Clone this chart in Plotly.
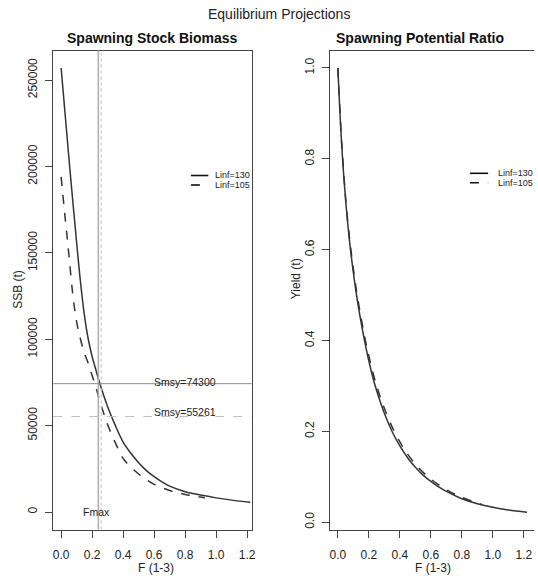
import plotly.graph_objects as go

# ---------------- data ----------------
F_130 = [0, 0.025, 0.05, 0.075, 0.1, 0.125, 0.15, 0.175, 0.2, 0.225, 0.25, 0.3, 0.35,
         0.4, 0.45, 0.5, 0.55, 0.6, 0.65, 0.7, 0.8, 0.9, 1.0, 1.1, 1.22]
ssb_130 = [257000, 231000, 205000, 180000, 156000, 133000, 114000, 100000, 90000, 82000,
           74300, 61000, 50000, 40500, 34000, 28500, 24000, 20500, 17500, 15000, 11800,
           9800, 8200, 6900, 5600]
spr_130 = [1.0, 0.83, 0.71, 0.62, 0.55, 0.49, 0.44, 0.395, 0.355, 0.32, 0.29, 0.24, 0.2,
           0.168, 0.142, 0.121, 0.104, 0.09, 0.078, 0.068, 0.052, 0.041, 0.033, 0.027, 0.022]

F_105 = [0, 0.025, 0.05, 0.075, 0.1, 0.125, 0.15, 0.175, 0.2, 0.225, 0.25, 0.275, 0.3,
         0.35, 0.4, 0.45, 0.5, 0.55, 0.6, 0.7, 0.8, 0.927]
ssb_105 = [194000, 171000, 149000, 126000, 110000, 100000, 92000, 86000, 79000, 72000,
           64000, 57000, 50500, 40000, 31000, 26000, 22000, 18700, 16000, 12500, 10200, 8300]
spr_105 = [1.0, 0.835, 0.715, 0.627, 0.558, 0.499, 0.45, 0.405, 0.366, 0.331, 0.301,
           0.274, 0.251, 0.21, 0.177, 0.15, 0.128, 0.11, 0.095, 0.072, 0.055, 0.04]

series_names = ["Linf=130", "Linf=105"]
fmax = [0.240, 0.259]
smsy = [74300, 55261]

x_ticks = [0, 0.2, 0.4, 0.6, 0.8, 1.0, 1.2]
x_ticklabels = ["0.0", "0.2", "0.4", "0.6", "0.8", "1.0", "1.2"]
ssb_ticks = [0, 50000, 100000, 150000, 200000, 250000]
ssb_ticklabels = ["0", "50000", "100000", "150000", "200000", "250000"]
spr_ticks = [0, 0.2, 0.4, 0.6, 0.8, 1.0]
spr_ticklabels = ["0.0", "0.2", "0.4", "0.6", "0.8", "1.0"]

# ---------------- figure ----------------
W, H = 538, 579
FONT = "Liberation Sans, Arial, Helvetica, sans-serif"
CURVE = "#333333"
AX = "#444444"
TXT = "#222222"


def px(x):
    return x / W


def py(y):
    return 1 - y / H


fig = go.Figure()

fig.add_trace(go.Scatter(x=F_130, y=ssb_130, mode="lines", line=dict(color=CURVE, width=1.5, shape="spline"),
                         xaxis="x", yaxis="y", showlegend=False))
fig.add_trace(go.Scatter(x=F_105, y=ssb_105, mode="lines", line=dict(color=CURVE, width=1.5, dash="dash", shape="spline"),
                         xaxis="x", yaxis="y", showlegend=False))
fig.add_trace(go.Scatter(x=F_130, y=spr_130, mode="lines", line=dict(color=CURVE, width=1.5, shape="spline"),
                         xaxis="x2", yaxis="y2", showlegend=False))
fig.add_trace(go.Scatter(x=F_105, y=spr_105, mode="lines", line=dict(color=CURVE, width=1.5, dash="dash", shape="spline"),
                         xaxis="x2", yaxis="y2", showlegend=False))

ydom = [py(529.5), py(50.5)]
axis_common = dict(showgrid=False, zeroline=False, showline=True, linecolor=AX, linewidth=1,
                   ticks="outside", ticklen=7, tickcolor=AX, tickwidth=1,
                   tickfont=dict(family=FONT, size=12, color=TXT))

fig.update_layout(
    width=W, height=H, autosize=False,
    margin=dict(l=0, r=0, t=0, b=0),
    paper_bgcolor="white", plot_bgcolor="white",
    font=dict(family=FONT, color=TXT),
    xaxis=dict(domain=[px(52.7), px(253)], range=[-0.0511, 1.2288], mirror=True,
               tickvals=x_ticks, ticktext=x_ticklabels, anchor="y", ticklabelstandoff=7, **axis_common),
    yaxis=dict(domain=ydom, range=[-10100, 267100], mirror=True, tickangle=-90,
               tickvals=ssb_ticks, ticktext=ssb_ticklabels, anchor="x", ticklabelstandoff=3, **axis_common),
    xaxis2=dict(domain=[px(332.3), 1.0], range=[-0.0492, 1.2652], mirror=True,
                tickvals=x_ticks, ticktext=x_ticklabels, anchor="y2", ticklabelstandoff=7, **axis_common),
    yaxis2=dict(domain=ydom, range=[-0.0158, 1.0385], mirror=False, tickangle=-90,
                tickvals=spr_ticks, ticktext=spr_ticklabels, anchor="x2", ticklabelstandoff=3, **axis_common),
)

shapes = []
# Fmax vertical lines
shapes.append(dict(type="line", xref="x", yref="y domain", x0=fmax[0], x1=fmax[0], y0=0, y1=1,
                   line=dict(color="#b0b0b0", width=1.6)))
shapes.append(dict(type="line", xref="x", yref="y domain", x0=fmax[1], x1=fmax[1], y0=0, y1=1,
                   line=dict(color="#c8c8c8", width=1.2, dash="dot")))
# Smsy horizontal lines
shapes.append(dict(type="line", xref="x domain", yref="y", x0=0, x1=1, y0=smsy[0], y1=smsy[0],
                   line=dict(color="#8c8c8c", width=1)))
shapes.append(dict(type="line", xref="x domain", yref="y", x0=0, x1=1, y0=smsy[1], y1=smsy[1],
                   line=dict(color="#bdbdbd", width=1, dash="dash")))

# legend samples (left and right panels)
legend_pos = [(191.7, 209.3, 213.5, 175.5, 185.0), (473.3, 491.7, 500.0, 173.3, 182.7)]
for (lx0, lx1, tx, ly1, ly2) in legend_pos:
    shapes.append(dict(type="line", xref="paper", yref="paper", x0=px(lx0), x1=px(lx1), y0=py(ly1), y1=py(ly1),
                       line=dict(color="#111111", width=1.6)))
    shapes.append(dict(type="line", xref="paper", yref="paper", x0=px(lx0), x1=px(lx1), y0=py(ly2), y1=py(ly2),
                       line=dict(color="#111111", width=1.6, dash="dash")))
fig.update_layout(shapes=shapes)

ann = []
ann.append(dict(text="Equilibrium Projections", xref="paper", yref="paper", x=px(280.5), y=py(14),
                showarrow=False, font=dict(family=FONT, size=14, color=TXT), xanchor="center", yanchor="middle"))
ann.append(dict(text="<b>Spawning Stock Biomass</b>", xref="paper", yref="paper", x=px(152.7), y=py(37.5),
                showarrow=False, font=dict(family=FONT, size=14, color="#111111"), xanchor="center", yanchor="middle"))
ann.append(dict(text="<b>Spawning Potential Ratio</b>", xref="paper", yref="paper", x=px(423.3), y=py(37.5),
                showarrow=False, font=dict(family=FONT, size=14, color="#111111"), xanchor="center", yanchor="middle"))
ann.append(dict(text="SSB (t)", xref="paper", yref="paper", x=px(17), y=py(289), textangle=-90,
                showarrow=False, font=dict(family=FONT, size=12, color=TXT), xanchor="center", yanchor="middle"))
ann.append(dict(text="Yield (t)", xref="paper", yref="paper", x=px(298), y=py(279), textangle=-90,
                showarrow=False, font=dict(family=FONT, size=12, color=TXT), xanchor="center", yanchor="middle"))
ann.append(dict(text="F (1-3)", xref="paper", yref="paper", x=px(156.7), y=py(567.5),
                showarrow=False, font=dict(family=FONT, size=12, color=TXT), xanchor="center", yanchor="middle"))
ann.append(dict(text="F (1-3)", xref="paper", yref="paper", x=px(435.6), y=py(567.5),
                showarrow=False, font=dict(family=FONT, size=12, color=TXT), xanchor="center", yanchor="middle"))
# Smsy and Fmax labels
ann.append(dict(text="Smsy=%d" % smsy[0], xref="x", yref="y", x=0.80, y=smsy[0], yshift=1.5,
                showarrow=False, font=dict(family=FONT, size=10.5, color=TXT), xanchor="center", yanchor="middle"))
ann.append(dict(text="Smsy=%d" % smsy[1], xref="x", yref="y", x=0.80, y=smsy[1], yshift=5,
                showarrow=False, font=dict(family=FONT, size=10.5, color=TXT), xanchor="center", yanchor="middle"))
ann.append(dict(text="Fmax", xref="x", yref="y", x=0.229, y=0,
                showarrow=False, font=dict(family=FONT, size=10.5, color=TXT), xanchor="center", yanchor="middle"))
# legend texts
for (lx0, lx1, tx, ly1, ly2) in legend_pos:
    for name, ly in zip(series_names, [ly1, ly2]):
        ann.append(dict(text=name, xref="paper", yref="paper", x=px(tx), y=py(ly),
                        showarrow=False, font=dict(family=FONT, size=9, color=TXT), xanchor="left", yanchor="middle"))
fig.update_layout(annotations=ann)

# remove the page's default body margin so the 538x579 figure fills the window exactly
fig.write_html("out.html", config={"displayModeBar": False},
               post_script="document.body.style.margin='0px';document.body.style.overflow='hidden';")
